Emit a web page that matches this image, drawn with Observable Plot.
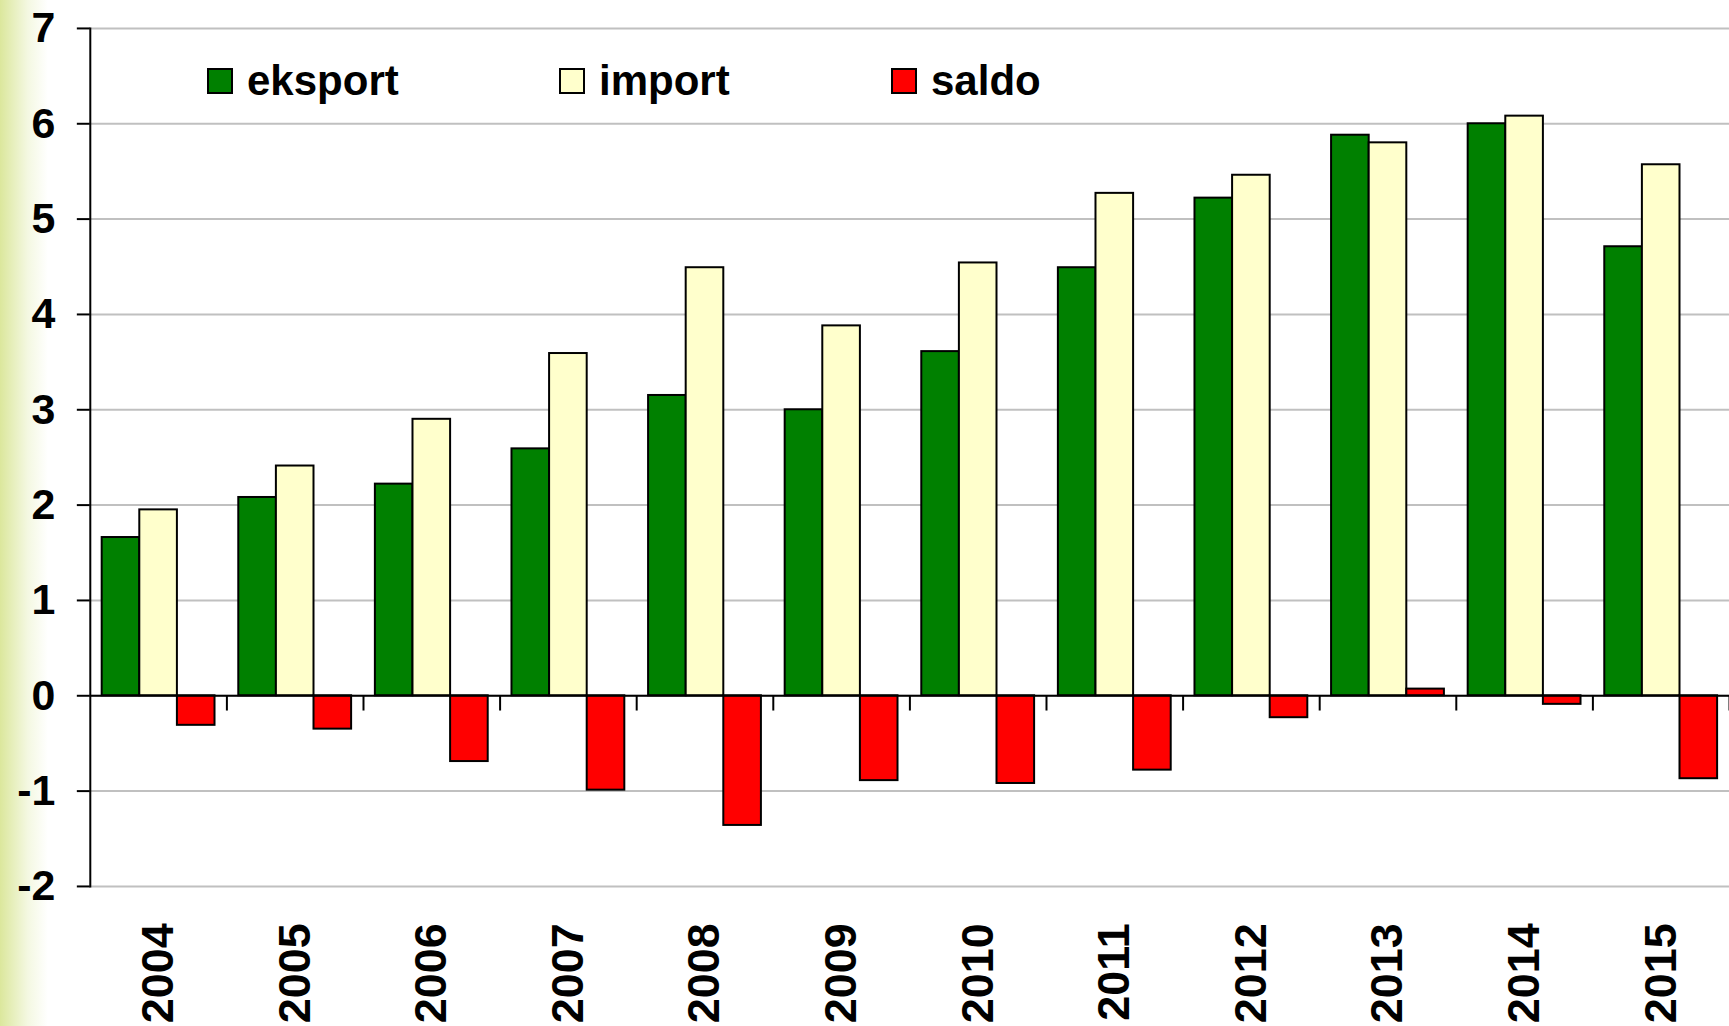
<!DOCTYPE html>
<html lang="pl">
<head>
<meta charset="utf-8">
<title>Eksport, import i saldo 2004–2015</title>
<script src="https://cdn.jsdelivr.net/npm/d3@7"></script>
<script src="https://cdn.jsdelivr.net/npm/@observablehq/plot@0.6"></script>
<style>
  html, body { margin: 0; padding: 0; overflow: hidden; }
  body {
    width: 1729px; height: 1026px;
    background: linear-gradient(to right, #dbe79c 0px, #f4f8e2 28px, #ffffff 48px);
    font-family: "Liberation Sans", Arial, sans-serif;
  }
  #chart { position: relative; width: 1729px; height: 1026px; }
  #chart svg { display: block; background: transparent; }
  .legend { position: absolute; top: 0; left: 0; }
  .legend .item { position: absolute; top: 66px; display: flex; align-items: center; white-space: nowrap; }
  .legend .swatch { width: 26px; height: 26px; box-sizing: border-box; border: 2px solid #000; margin-right: 14px; }
  .legend .label { font-size: 42px; font-weight: bold; color: #000; line-height: 30px; }
</style>
</head>
<body>
<div id="chart"></div>
<script>
// Years on the category axis
const years = [2004, 2005, 2006, 2007, 2008, 2009, 2010, 2011, 2012, 2013, 2014, 2015];

// Series values per year
const eksport = [1.66, 2.08, 2.22, 2.59, 3.15, 3.00, 3.61, 4.49, 5.22, 5.88, 6.00, 4.71];
const importVals = [1.95, 2.41, 2.90, 3.59, 4.49, 3.88, 4.54, 5.27, 5.46, 5.80, 6.08, 5.57];
const saldo = [-0.31, -0.35, -0.69, -0.99, -1.36, -0.89, -0.92, -0.78, -0.23, 0.07, -0.09, -0.87];

// Series names (legend order) and their fills
const seriesNames = ["eksport", "import", "saldo"];
const seriesColors = ["#008000", "#ffffcc", "#ff0000"];

// Value-axis ticks
const yTicks = [-2, -1, 0, 1, 2, 3, 4, 5, 6, 7];

// Long table: one row per bar
const valuesBySeries = {eksport, import: importVals, saldo};
const rows = years.flatMap((year, i) =>
  seriesNames.map((series, k) => ({year, series, k, value: valuesBySeries[series][i]}))
);

// Each year occupies one unit on x; bars are dodged inside it
const groupPad = 0.087;                     // empty share at each side of a group
const barW = (1 - 2 * groupPad) / seriesNames.length;
const barX1 = d => d.year - 0.5 + groupPad + d.k * barW;
const barX2 = d => barX1(d) + barW;

const chart = Plot.plot({
  width: 1733,
  height: 1026,
  marginLeft: 90,
  marginRight: 0,
  marginTop: 28,
  marginBottom: 138,
  style: {
    fontFamily: "'Liberation Sans', Arial, sans-serif",
    fontWeight: "bold",
    fontSize: "43px",
    color: "#000",
    background: "transparent",
    overflow: "visible"
  },
  x: {domain: [years[0] - 0.5, years[years.length - 1] + 0.5], axis: null},
  y: {domain: [yTicks[0], yTicks[yTicks.length - 1]]},
  color: {domain: seriesNames, range: seriesColors},
  marks: [
    Plot.gridY(yTicks, {stroke: "#c0c0c0", strokeOpacity: 1, strokeWidth: 2}),
    Plot.rect(rows, {
      x1: barX1,
      x2: barX2,
      y1: 0,
      y2: "value",
      fill: "series",
      stroke: "#000",
      strokeWidth: 2
    }),
    Plot.ruleY([0], {stroke: "#000", strokeWidth: 2}),
    // short ticks between year groups, hanging below the zero line
    Plot.ruleX(years, {x: d => d + 0.5, y1: 0, y2: -0.16, stroke: "#000", strokeWidth: 2}),
    Plot.frame({anchor: "left", stroke: "#000", strokeWidth: 2}),
    Plot.axisY(yTicks, {
      tickSize: 13,
      tickPadding: 22,
      strokeWidth: 2,
      tickFormat: d => String(d),
      label: null
    }),
    // vertical year labels below the plotting area
    Plot.text(years, {
      x: d => d,
      frameAnchor: "bottom",
      text: d => String(d),
      rotate: -90,
      textAnchor: "end",
      lineAnchor: "middle",
      dy: 37,
      fontSize: 45,
      fontWeight: "bold",
      fill: "#000"
    })
  ]
});

const host = document.getElementById("chart");
host.appendChild(chart);

// Legend placed inside the plotting area, top left
const legend = document.createElement("div");
legend.className = "legend";
const legendLeft = [207, 559, 891];
seriesNames.forEach((name, i) => {
  const item = document.createElement("div");
  item.className = "item";
  item.style.left = legendLeft[i] + "px";
  const sw = document.createElement("span");
  sw.className = "swatch";
  sw.style.background = seriesColors[i];
  const lb = document.createElement("span");
  lb.className = "label";
  lb.textContent = name;
  item.append(sw, lb);
  legend.appendChild(item);
});
host.appendChild(legend);
</script>
</body>
</html>
